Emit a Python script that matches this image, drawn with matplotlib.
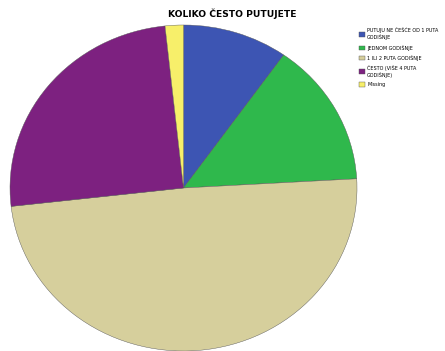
import matplotlib.pyplot as plt

labels = ["PUTUJU NE ČEŠĆE OD 1 PUTA\nGODIŠNJE", "JEDNOM GODIŠNJE",
          "1 ILI 2 PUTA GODIŠNJE", "ČESTO (VIŠE 4 PUTA\nGODIŠNJE)", "Missing"]
values = [9.8, 14.3, 49.1, 25.1, 1.7]
colors = ["#3d55b3", "#2fb84c", "#d6cf9c", "#7d2180", "#f7ef6a"]

W, H = 445, 351
fig = plt.figure(figsize=(W / 100, H / 100), dpi=100)
ax = fig.add_axes([10 / W, 0, 347 / W, 326 / H])

wedges, _ = ax.pie(values, colors=colors, startangle=90, counterclock=False,
                   wedgeprops=dict(edgecolor="#555555", linewidth=0.3))
ax.set_aspect("auto")
ax.set_xlim(-1, 1)
ax.set_ylim(-1, 1)
ax.axis("off")

fig.text(232 / W, 1 - 14 / H, "KOLIKO ČESTO PUTUJETE", ha="center", va="center",
         fontsize=6.6, fontweight="bold")

fig.legend(wedges, labels, loc="upper left", bbox_to_anchor=(357 / W, 1 - 25 / H),
           frameon=False, fontsize=3.5, handlelength=1.1, handleheight=1.1,
           handletextpad=0.5, labelspacing=0.85, borderpad=0)

fig.savefig("out.png", dpi=100)
